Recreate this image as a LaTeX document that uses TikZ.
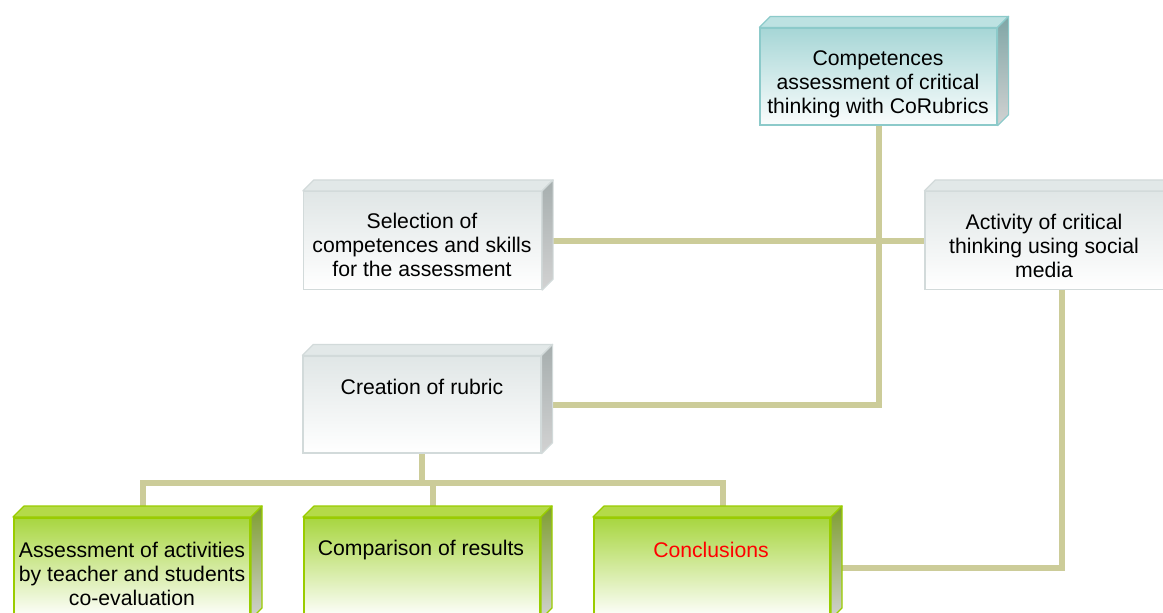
\documentclass[tikz,border=0pt]{standalone}
\usepackage{fontspec}
\setmainfont{Liberation Sans}
\pgfdeclarelayer{bg}
\pgfsetlayers{bg,main}
\definecolor{connc}{HTML}{CCCC99}
\definecolor{tealB}{HTML}{8CCACA}
\definecolor{tealT}{HTML}{BDE2E2}
\definecolor{tealF}{HTML}{A6D6D6}
\definecolor{tealS}{HTML}{7FA6A6}
\definecolor{grayB}{HTML}{D2DADA}
\definecolor{grayT}{HTML}{E2E8E8}
\definecolor{grayF}{HTML}{E0E6E6}
\definecolor{grayS}{HTML}{A6AEAE}
\definecolor{greenB}{HTML}{99CC00}
\definecolor{greenT}{HTML}{B4DA48}
\definecolor{greenF}{HTML}{A8D640}
\definecolor{greenM}{HTML}{E2F0BC}
\definecolor{greenS}{HTML}{7E9E2E}
\definecolor{sideB}{HTML}{D2D2D2}
\definecolor{redtxt}{HTML}{FF0000}
\newcommand\threedbox[4]{%
  \path[draw=#2,fill=#3,line width=1.2,line join=round] (#1.north west) -- ++(11,-11) -- ([shift={(11,-11)}]#1.north east) -- (#1.north east) -- cycle;
  \path[draw=#2,line width=1.2,top color=#4,bottom color=sideB,line join=round] (#1.north east) -- ++(11,-11) -- ([shift={(11,-11)}]#1.south east) -- (#1.south east) -- cycle;}
\tikzset{
  face/.style={rectangle, inner sep=0, line width=1.2, minimum width=238, minimum height=98},
  tealface/.style={face, draw=tealB, top color=tealF, bottom color=white!95!tealF},
  grayface/.style={face, draw=grayB, top color=grayF, bottom color=white},
  greenface/.style={face, draw=greenB, line width=2, top color=greenF, middle color=greenM, bottom color=white, minimum height=100, minimum width=236},
  txt/.style={align=center, inner sep=0, font=\fontsize{21.2}{24.2}\selectfont},
  conn/.style={draw=connc, line width=6}
}
\begin{document}
\begin{tikzpicture}[x=1pt,y=-1pt]
\useasboundingbox (0,0) rectangle (1163,613);
\clip (0,0) rectangle (1163,613);
% front faces
\node[tealface, minimum width=237, minimum height=97] (comp) at (878.5,76.5) {};
\node[grayface] (sel) at (422.5,240.5) {};
\node[grayface, minimum width=274] (act) at (1062,240.5) {};
\node[grayface, minimum height=97] (crea) at (422,404.5) {};
\node[greenface] (ass) at (132,568) {};
\node[greenface] (cmp) at (422,568) {};
\node[greenface] (conc) at (712,568) {};
% 3d faces
\threedbox{comp}{tealB}{tealT}{tealS}
\threedbox{sel}{grayB}{grayT}{grayS}
\threedbox{act}{grayB}{grayT}{grayS}
\threedbox{crea}{grayB}{grayT}{grayS}
\threedbox{ass}{greenB}{greenT}{greenS}
\threedbox{cmp}{greenB}{greenT}{greenS}
\threedbox{conc}{greenB}{greenT}{greenS}
% texts
\node[txt] (t1) at (878,84) {Competences\\assessment of critical\\thinking with CoRubrics};
\node[txt] (t2) at (422,245) {Selection of\\competences and skills\\for the assessment};
\node[txt] (t3) at (1044,246) {Activity of critical\\thinking using social\\media};
\node[txt] (t4) at (422,387) {Creation of rubric};
\node[txt] (t5) at (132,574) {Assessment of activities\\by teacher and students\\co-evaluation};
\node[txt] (t6) at (421,550) {Comparison of results};
\node[txt, text=redtxt] (t7) at (711,550) {Conclusions};
% connectors
\begin{pgfonlayer}{bg}
\draw[conn] (comp.south) |- (crea.east);
\draw[conn] (sel.east) -- (act.west);
\draw[conn] (act.south) |- (conc.east);
\draw[conn] (crea.south) -- ++(0,31);
\draw[conn, line cap=rect] ([shift={(11,0)}]ass.north) -- ++(0,-34) -| ([shift={(11,0)}]conc.north);
\draw[conn] ([shift={(11,0)}]cmp.north) -- ++(0,-34);
\end{pgfonlayer}
\end{tikzpicture}
\end{document}
